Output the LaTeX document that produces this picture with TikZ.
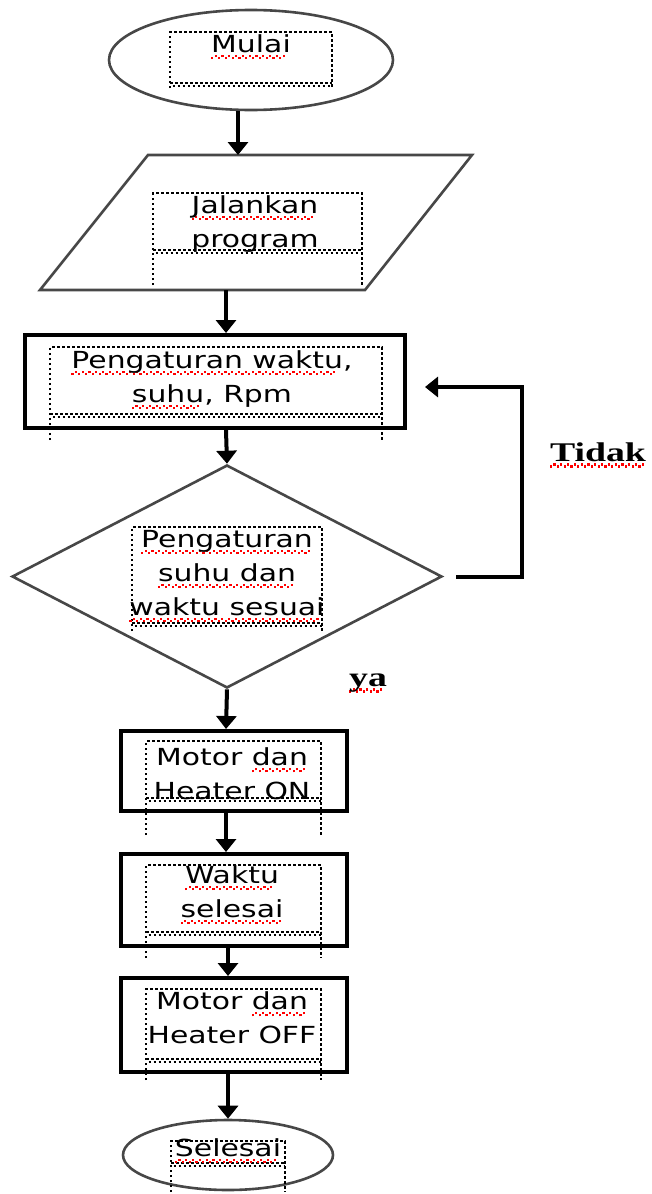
\documentclass[tikz,border=0pt]{standalone}
\usepackage{fontspec}
\setmainfont{DejaVu Sans}
\newfontfamily\tf[FakeStretch=1.27]{DejaVu Sans}
\newfontfamily\lf[FakeStretch=1.4]{Liberation Serif}
\usetikzlibrary{shapes.geometric,arrows.meta}
\newcommand\rw[1]{\setbox0\hbox{#1}\rlap{\color{red}\leaders\hbox{\rule[-6.5pt]{2.2pt}{2.2pt}\kern1.2pt\rule[-4.5pt]{2.2pt}{2.2pt}\kern1.2pt}\hskip\wd0}\box0}
\newcommand\dframe[5]{%
  \draw[dotline] (#1,#5) -- (#1,#3) -- (#2,#3) -- (#2,#5);
  \draw[dotline] (#1,#4) -- (#2,#4);
  \draw[dotline,dash phase=2.5pt] (#1,#4+3) -- (#2,#4+3);}
\tikzset{
  shapeline/.style={draw=black!72, line width=2.6pt},
  boxline/.style={draw=black, line width=4pt},
  dotline/.style={draw=black, line width=2.5pt, dash pattern=on 2.5pt off 2.5pt},
  arr/.style={draw=black, line width=4pt, -{Triangle[width=20pt,length=13pt]}},
  txt/.style={font=\tf\fontsize{23.5}{34}\selectfont, align=center, inner sep=0pt, text=black},
  lbl/.style={font=\lf\bfseries\fontsize{27}{30}\selectfont, inner sep=0pt, text=black},
}
\begin{document}
\begin{tikzpicture}[x=1pt,y=-1pt]
\useasboundingbox[fill=white] (0,0) rectangle (652,1194);
% shapes
\node[ellipse, shapeline, minimum width=284pt, minimum height=100pt, inner sep=0pt] (start) at (251,60) {};
\draw[shapeline] (148,155) -- (472,155) -- (365,290) -- (40,290) -- cycle;
\coordinate (inT) at (238,155);
\coordinate (inB) at (226,290);
\node[rectangle, boxline, minimum width=380pt, minimum height=93pt, inner sep=0pt] (r1) at (215,381.5) {};
\node[diamond, shapeline, aspect=1.93, minimum width=430pt, minimum height=223pt, inner sep=0pt] (d) at (227,576.5) {};
\node[rectangle, boxline, minimum width=226pt, minimum height=80pt, inner sep=0pt] (r2) at (234,771) {};
\node[rectangle, boxline, minimum width=226pt, minimum height=92pt, inner sep=0pt] (r3) at (234,900) {};
\node[rectangle, boxline, minimum width=226pt, minimum height=94pt, inner sep=0pt] (r4) at (234,1025) {};
\node[ellipse, shapeline, minimum width=210pt, minimum height=70pt, inner sep=0pt] (end) at (228,1155) {};
% dotted frames
\dframe{170}{332}{32}{83}{88}
\dframe{153}{362}{193}{250}{285}
\dframe{50}{382}{347}{414}{440}
\dframe{132}{322}{527}{623}{631}
\dframe{146}{321}{741}{798}{835}
\dframe{146}{321}{865}{932}{958}
\dframe{146}{321}{989}{1059}{1080}
\dframe{171}{285}{1141}{1163}{1192}
% texts
\node[txt] (tStart) at (251,47) {\rw{Mulai}};
\node[txt] (tIn) at (255,224) {\rw{Jalankan}\\program};
\node[txt] (t1) at (212,380) {\rw{Pengaturan waktu},\\\rw{suhu}, Rpm};
\node[txt] (td) at (227,576) {\rw{Pengaturan}\\\rw{suhu dan}\\\rw{waktu sesuai}};
\node[txt] (t2) at (232,774) {Motor \rw{dan}\\Heater ON};
\node[txt] (t3) at (232,895) {\rw{Waktu}\\\rw{selesai}};
\node[txt] (t4) at (232,1018) {Motor \rw{dan}\\Heater OFF};
\node[txt] (tEnd) at (228,1151) {\rw{Selesai}};
\node[lbl] (tidak) at (598,455) {\rw{Tidak}};
\node[lbl] (ya) at (368,683) {\rw{ya}};
% connectors
\coordinate (c1) at (238,0);
\coordinate (c2) at (226,0);
\coordinate (c3) at (228,0);
\draw[arr] (start.south -| c1) -- (inT);
\draw[arr] (inB) -- (r1.north -| c2);
\draw[arr] (r1.south -| c2) -- (d.north);
\draw[arr] (d.south) -- (r2.north -| c2);
\draw[arr] (r2.south -| c2) -- (r3.north -| c2);
\draw[arr] (r3.south -| c3) -- (r4.north -| c3);
\draw[arr] (r4.south -| c3) -- (end.north -| c3);
\coordinate (fbEnd) at (425,387);
\draw[arr] ([xshift=13pt]d.east) -- (522,576.5) |- (fbEnd);
\end{tikzpicture}
\end{document}
